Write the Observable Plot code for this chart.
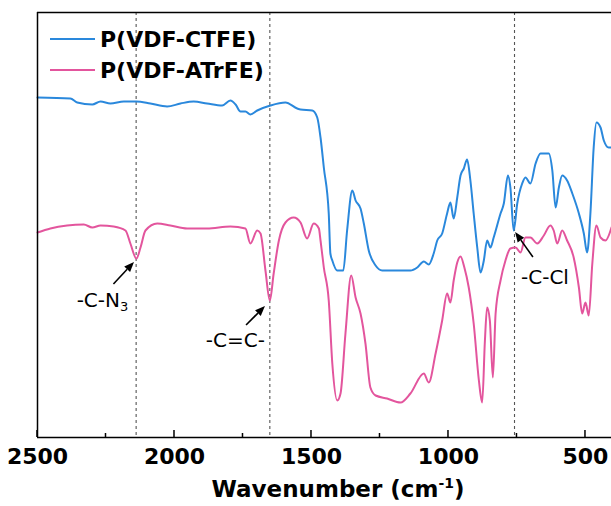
<!DOCTYPE html>
<html><head><meta charset="utf-8">
<script src="https://cdn.jsdelivr.net/npm/d3@7"></script>
<script src="https://cdn.jsdelivr.net/npm/@observablehq/plot@0.6"></script>
<style>body{margin:0;background:#fff}</style>
</head><body><div id="chart"></div>
<script>
// Wavenumber (cm-1) and transmittance (arbitrary units, offset) for each series
const ctfeWn = [2500,2380,2355,2300,2270,2234,2185,2139,2088,2027,1978,1930,1881,1826,1796,1777,1759,1741,1723,1698,1650,1595,1552,1540,1497,1479,1467,1455,1437,1431,1424,1406,1384,1370,1351,1339,1321,1309,1291,1266,1242,1139,1114,1090,1072,1054,1041,1023,1005,993,981,968,956,944,932,920,908,895,883,871,859,847,835,810,798,783,774,762,749,731,719,701,682,664,634,621,609,597,585,567,548,524,506,494,482,470,460,445,433,415,405];
const ctfeT = [340,339,335,333,336,334,336,336,334,331,334,336,334,332,337,333,326,326,323,327,332,335,329,328,327,320,300,270,224,184,177,167,167,207,247,237,229,214,187,172,167,167,170,176,173,184,197,204,224,235,219,240,262,269,278,257,224,190,165,177,197,190,200,224,234,262,250,207,234,254,260,254,274,284,284,267,230,250,262,257,244,224,204,185,224,290,315,310,297,290,290];
const atrfeWn = [2500,2453,2392,2331,2300,2270,2222,2179,2161,2139,2124,2106,2063,2015,1954,1881,1796,1741,1723,1698,1686,1668,1652,1638,1619,1595,1565,1540,1516,1492,1473,1467,1455,1437,1424,1406,1394,1376,1355,1339,1321,1303,1285,1266,1224,1175,1139,1090,1072,1047,1023,1005,993,981,968,956,942,926,908,889,877,867,859,849,838,828,810,792,774,755,737,719,701,676,652,628,616,603,585,567,543,524,512,500,488,475,460,445,427,405];
const atrfeT = [205,209,212,213,210,212,211,207,194,179,190,207,214,212,209,209,211,209,194,207,204,167,137,164,197,215,220,215,199,214,209,197,170,137,74,37,44,104,162,140,124,94,50,42,39,35,44,64,55,84,117,144,135,157,175,181,170,150,114,57,35,97,130,117,60,124,157,177,189,190,185,200,200,194,202,212,207,194,207,197,180,150,124,135,122,174,212,200,197,210];

const seriesNames = ["P(VDF-CTFE)", "P(VDF-ATrFE)"];
const seriesColors = ["#2a88dc", "#e3559d"];

const majorTicks = [2500, 2000, 1500, 1000, 500];
const minorTicks = [2250, 1750, 1250, 750];
const peakWn = [2140, 1652, 759];

const annotMain = ["-C-N", "-C=C-", "-C-Cl"];
const annotSub = ["3", "", ""];
const annotTextWn = [2261, 1776, 646];
const annotTextT = [130, 90, 153];
const arrowFromWn = [2221, 1737, 690];
const arrowFromT = [153, 112, 180];
const arrowToWn = [2146, 1668, 755];
const arrowToT = [175, 131, 205];

const xDomain = [2500, 405];
const yDomain = [0, 425];

const data = [
  ...ctfeWn.map((w, i) => ({wn: w, t: ctfeT[i], s: seriesNames[0]})),
  ...atrfeWn.map((w, i) => ({wn: w, t: atrfeT[i], s: seriesNames[1]}))
];
const annots = annotMain.map((m, i) => ({
  main: m, sub: annotSub[i], tx: annotTextWn[i], ty: annotTextT[i],
  x1: arrowFromWn[i], y1: arrowFromT[i], x2: arrowToWn[i], y2: arrowToT[i]
}));

const FONT = "DejaVu Sans, sans-serif";

function ticksMark(index, scales, values, dims) {
  const x = scales.x;
  const g = d3.create("svg:g").attr("stroke", "#000").attr("stroke-width", 1.5);
  const yb = dims.height - dims.marginBottom;
  for (const t of majorTicks) g.append("line").attr("x1", x(t)).attr("x2", x(t)).attr("y1", yb).attr("y2", yb - 7);
  for (const t of minorTicks) g.append("line").attr("x1", x(t)).attr("x2", x(t)).attr("y1", yb).attr("y2", yb - 4);
  return g.node();
}

function annotMark(index, scales, values, dims) {
  const {x, y} = scales;
  const g = d3.create("svg:g");
  for (const a of annots) {
    const X1 = x(a.x1), Y1 = y(a.y1), X2 = x(a.x2), Y2 = y(a.y2);
    const dx = X2 - X1, dy = Y2 - Y1, L = Math.hypot(dx, dy);
    const ux = dx / L, uy = dy / L, hl = 10, hw = 4;
    const bx = X2 - ux * hl, by = Y2 - uy * hl;
    g.append("line").attr("x1", X1).attr("y1", Y1).attr("x2", bx).attr("y2", by)
      .attr("stroke", "#000").attr("stroke-width", 1.6);
    g.append("polygon")
      .attr("points", `${X2},${Y2} ${bx - uy * hw},${by + ux * hw} ${bx + uy * hw},${by - ux * hw}`)
      .attr("fill", "#000");
    const t = g.append("text").attr("x", x(a.tx)).attr("y", y(a.ty))
      .attr("text-anchor", "middle").attr("font-family", FONT).attr("font-size", 20).attr("fill", "#000");
    t.append("tspan").text(a.main);
    if (a.sub) t.append("tspan").attr("font-size", 13).attr("dy", 4).text(a.sub);
  }
  return g.node();
}

function legendMark(index, scales, values, dims) {
  const g = d3.create("svg:g");
  seriesNames.forEach((name, i) => {
    const ly = dims.marginTop + 27 + i * 31;
    g.append("line").attr("x1", dims.marginLeft + 13).attr("x2", dims.marginLeft + 58)
      .attr("y1", ly).attr("y2", ly).attr("stroke", seriesColors[i]).attr("stroke-width", 2.2);
    g.append("text").attr("x", dims.marginLeft + 63).attr("y", ly + 8)
      .attr("text-anchor", "start")
      .attr("font-family", FONT).attr("font-weight", "bold").attr("font-size", 22)
      .attr("fill", "#000").text(name);
  });
  return g.node();
}

function titleMark(index, scales, values, dims) {
  const cx = (dims.marginLeft + dims.width - dims.marginRight) / 2 + 14;
  const t = d3.create("svg:text").attr("x", cx).attr("y", dims.height - 9)
    .attr("text-anchor", "middle").attr("font-family", FONT).attr("font-weight", "bold")
    .attr("font-size", 23).attr("fill", "#000");
  t.append("tspan").text("Wavenumber (cm");
  t.append("tspan").attr("font-size", 14).attr("dy", -9).text("-1");
  t.append("tspan").attr("dy", 9).text(")");
  return t.node();
}

const chart = Plot.plot({
  width: 611,
  height: 506,
  marginLeft: 37,
  marginRight: 0,
  marginTop: 12,
  marginBottom: 69,
  style: {fontFamily: FONT, background: "#fff", overflow: "hidden"},
  x: {domain: xDomain, axis: null},
  y: {domain: yDomain, axis: null},
  color: {domain: seriesNames, range: seriesColors},
  marks: [
    Plot.ruleX(peakWn, {stroke: "#555", strokeWidth: 1.1, strokeDasharray: "3,3"}),
    Plot.line(data, {x: "wn", y: "t", z: "s", stroke: "s", strokeWidth: 2, curve: "monotone-x"}),
    Plot.ruleX([xDomain[0]], {stroke: "#000", strokeWidth: 1.5}),
    Plot.ruleY([yDomain[1]], {stroke: "#000", strokeWidth: 1.5}),
    Plot.ruleY([yDomain[0]], {stroke: "#000", strokeWidth: 1.5}),
    ticksMark,
    Plot.axisX(majorTicks, {tickSize: 0, tickPadding: 11, fontSize: 22, fontWeight: "bold", fill: "#000", tickFormat: d => String(d), label: null}),
    annotMark,
    legendMark,
    titleMark
  ]
});
document.getElementById("chart").appendChild(chart);
</script>
</body></html>
